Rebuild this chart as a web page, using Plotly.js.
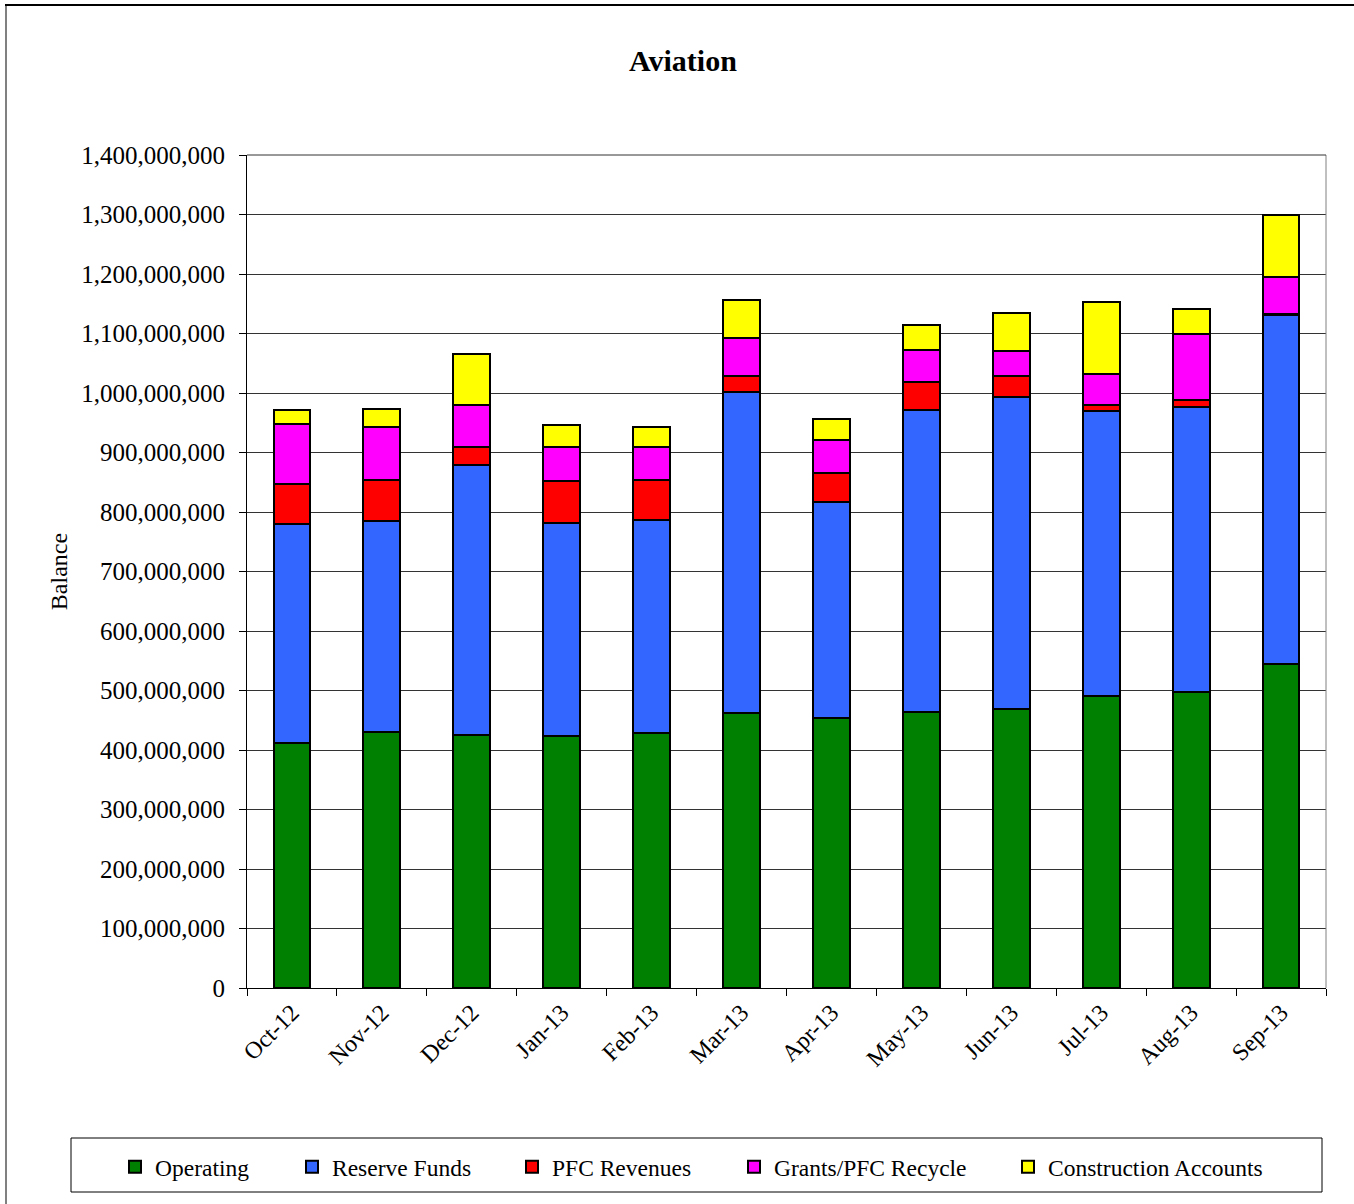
<!DOCTYPE html>
<html>
<head>
<meta charset="utf-8">
<script src="https://cdn.plot.ly/plotly-3.0.1.min.js"></script>
<style>
  html, body { margin: 0; padding: 0; background: #fff; }
  #chart { width: 1354px; height: 1204px; }
</style>
</head>
<body>
<div id="chart"></div>
<script>
const months = ["Oct-12","Nov-12","Dec-12","Jan-13","Feb-13","Mar-13","Apr-13","May-13","Jun-13","Jul-13","Aug-13","Sep-13"];
const operating     = [412e6, 431e6, 426e6, 424e6, 429e6, 462e6, 453e6, 464e6, 469e6, 491e6, 497e6, 545e6];
const reserveFunds  = [368e6, 354e6, 453e6, 358e6, 358e6, 540e6, 363e6, 507e6, 525e6, 479e6, 480e6, 586e6];
const pfcRevenues   = [67e6, 68e6, 31e6, 70e6, 67e6, 27e6, 50e6, 48e6, 35e6, 10e6, 11e6, 1e6];
const grantsPfc     = [101e6, 90e6, 70e6, 58e6, 55e6, 64e6, 55e6, 53e6, 42e6, 52e6, 111e6, 63e6];
const construction  = [24e6, 30e6, 86e6, 36e6, 34e6, 63e6, 36e6, 42e6, 63e6, 121e6, 42e6, 104e6];

const seriesNames = ["Operating","Reserve Funds","PFC Revenues","Grants/PFC Recycle","Construction Accounts"];
const seriesVals = [operating, reserveFunds, pfcRevenues, grantsPfc, construction];
const seriesColors = ["#008000","#3366FF","#FF0000","#FF00FF","#FFFF00"];
const legendIds = ["legend","legend2","legend3","legend4","legend5"];

const FONT = "Liberation Serif, Times New Roman, serif";

const traces = seriesNames.map((n, i) => ({
  type: "bar",
  name: n,
  x: months,
  y: seriesVals[i],
  legend: legendIds[i],
  marker: { color: seriesColors[i], line: { color: "#000", width: 2 } },
  hoverinfo: "x+y+name"
}));

// plot area in pixels
const L = 247, R = 1326, T = 155, B = 988;
const PW = R - L, PH = B - T;
const px2x = p => (p - L) / PW;
const px2y = p => (B - p) / PH;

const textStarts = [155, 332, 552, 774, 1048];
const legends = {};
legendIds.forEach((id, i) => {
  legends[id] = {
    x: px2x(textStarts[i] - 40),
    xanchor: "left",
    y: px2y(1167),
    yanchor: "middle",
    orientation: "h",
    bgcolor: "rgba(0,0,0,0)",
    borderwidth: 0,
    font: { family: FONT, size: 23.5, color: "#000" },
    itemwidth: 30
  };
});

const layout = Object.assign({
  width: 1354,
  height: 1204,
  paper_bgcolor: "#fff",
  plot_bgcolor: "#fff",
  barmode: "stack",
  bargap: 0.59,
  showlegend: true,
  margin: { l: L, r: 1354 - R, t: T, b: 1204 - B, pad: 0 },
  title: {
    text: "<b>Aviation</b>",
    font: { family: FONT, size: 30, color: "#000" },
    x: 683 / 1354, xref: "container", xanchor: "center",
    y: 1 - 60 / 1204, yref: "container", yanchor: "middle"
  },
  xaxis: {
    type: "category",
    showline: true, linecolor: "#000", linewidth: 1,
    ticks: "outside", tickson: "boundaries", ticklen: 7, tickcolor: "#000", tickwidth: 1,
    tickangle: -45,
    tickfont: { family: FONT, size: 24, color: "#000" },
    showgrid: false, zeroline: false,
    automargin: false
  },
  yaxis: {
    range: [0, 1.4e9],
    dtick: 1e8, tick0: 0,
    tickformat: ",d",
    showline: true, linecolor: "#000", linewidth: 1,
    ticks: "outside", ticklen: 7, tickcolor: "#000", tickwidth: 1,
    ticklabelstandoff: 9,
    tickfont: { family: FONT, size: 25, color: "#000" },
    showgrid: true, gridcolor: "#333", gridwidth: 1,
    zeroline: false,
    automargin: false,
    title: { text: "Balance", font: { family: FONT, size: 24, color: "#000" }, standoff: 6 }
  },
  shapes: [
    { type: "line", xref: "paper", yref: "paper", x0: 1, x1: 1, y0: 0, y1: 1, line: { color: "#808080", width: 1 } },
    { type: "line", xref: "paper", yref: "paper", x0: 0, x1: 1, y0: 1, y1: 1, line: { color: "#333", width: 1 } },
    { type: "rect", xref: "paper", yref: "paper", x0: px2x(71), x1: px2x(1322), y0: px2y(1192), y1: px2y(1138), line: { color: "#000", width: 1 }, fillcolor: "rgba(0,0,0,0)" },
    { type: "line", xref: "paper", yref: "paper", x0: px2x(6), x1: px2x(6), y0: px2y(5), y1: px2y(1210), line: { color: "#808080", width: 2 } },
    { type: "line", xref: "paper", yref: "paper", x0: px2x(5), x1: px2x(1360), y0: px2y(5), y1: px2y(5), line: { color: "#000", width: 2 } }
  ]
}, legends);

Plotly.newPlot("chart", traces, layout, { displayModeBar: false, staticPlot: true });
</script>
</body>
</html>
